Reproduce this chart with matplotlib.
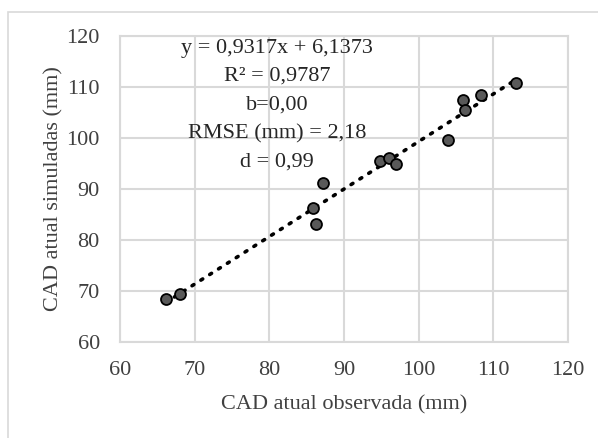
import matplotlib
matplotlib.use('Agg')
import matplotlib.pyplot as plt
from matplotlib.patches import Rectangle

# Dados
observada = [66.1, 68.0, 85.9, 86.2, 87.2, 94.8, 96.0, 97.0, 103.9, 105.9, 106.2, 108.4, 113.0]
simulada = [68.4, 69.4, 86.2, 83.1, 91.2, 95.4, 96.0, 94.9, 99.7, 107.4, 105.5, 108.5, 110.7]

# Linha de tendência (equação mostrada no gráfico)
coef_a = 0.9317
coef_b = 6.1373

stats_lines = ['y = 0,9317x + 6,1373', 'R² = 0,9787', 'b=0,00', 'RMSE (mm) = 2,18', 'd = 0,99']
ticks = [60, 70, 80, 90, 100, 110, 120]

plt.rcParams['font.family'] = ['Liberation Serif', 'DejaVu Serif']

fig = plt.figure(figsize=(5.98, 4.38), dpi=100)
ax = fig.add_axes([120 / 598, 1 - 342 / 438, (568 - 120) / 598, (342 - 36) / 438])

# moldura clara do gráfico
fig.patches.append(Rectangle((8 / 598, -0.1), 1.2, 1 - 12 / 438 + 0.1, transform=fig.transFigure,
                             fill=False, edgecolor='#d9d9d9', linewidth=1.2))

ax.set_xlim(60, 120)
ax.set_ylim(60, 120)
ax.set_xticks(ticks)
ax.set_yticks(ticks)
ax.grid(True, color='#d9d9d9', linewidth=1.5)
ax.set_axisbelow(True)
for s in ax.spines.values():
    s.set_color('#d9d9d9')
    s.set_linewidth(1.5)
ax.tick_params(length=0, labelsize=16, colors='#404040')
ax.tick_params(axis='x', pad=14)
ax.tick_params(axis='y', pad=14.5)

x_line = [min(observada), max(observada)]
y_line = [coef_a * v + coef_b for v in x_line]
ax.plot(x_line, y_line, color='black', linewidth=2.6, linestyle=(0, (0.6, 2.3)),
        dash_capstyle='round', zorder=2)

ax.scatter(observada, simulada, s=62, color='#595959', edgecolors='black', linewidths=1.3, zorder=3)

for i, t in enumerate(stats_lines):
    fig.text(277 / 598, 1 - (48 + i * 28.5) / 438, t, ha='center', va='center', fontsize=16, color='#262626')

ax.set_xlabel('CAD atual observada (mm)', fontsize=16, color='#404040', labelpad=11)
ax.set_ylabel('CAD atual simuladas (mm)', fontsize=16, color='#404040', labelpad=2)

fig.savefig('out.png', dpi=100)
